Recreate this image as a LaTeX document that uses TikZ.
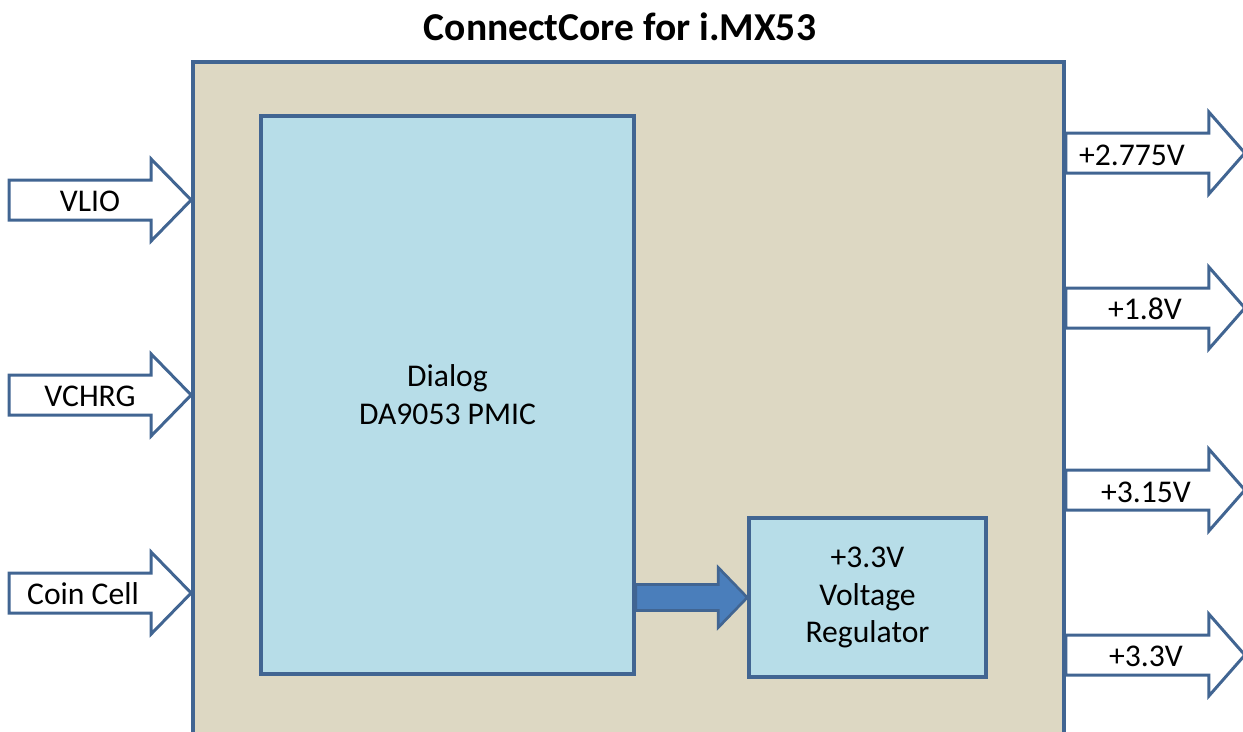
\documentclass[tikz,border=0pt]{standalone}
\usepackage{fontspec}
\setmainfont{Carlito}
\usetikzlibrary{calc}
\definecolor{edgeblue}{RGB}{65,101,146}
\definecolor{boardtan}{RGB}{221,216,195}
\definecolor{chipblue}{RGB}{183,221,232}
\definecolor{flowblue}{RGB}{74,126,187}
\tikzset{
  board/.style={draw=edgeblue,line width=2.2pt,fill=boardtan,inner sep=0pt},
  chip/.style={draw=edgeblue,line width=2pt,fill=chipblue,align=center,font=\fontsize{18}{21.5}\selectfont},
  pinarrow/.style={draw=edgeblue,line width=1.7pt,fill=white},
  pinlabel/.style={font=\fontsize{18}{21}\selectfont,inner sep=0pt},
}
\begin{document}
\begin{tikzpicture}[x=0.02cm,y=-0.02cm]
\clip (0,0) rectangle (1243,731);
\node[font=\bfseries\fontsize{22.5}{27}\selectfont] (title) at (620,27) {ConnectCore for i.MX53};
\node[board,minimum width=17.42cm,minimum height=14.76cm] (board) at (628.5,431) {};
\node[chip,minimum width=7.46cm,minimum height=11.16cm] (pmic) at (447.5,395) {Dialog\\DA9053 PMIC};
\node[chip,minimum width=4.74cm,minimum height=3.18cm] (reg) at (867.5,597.5) {+3.3V\\Voltage\\Regulator};
% PMIC feeds the regulator
\coordinate (pmicout) at (pmic.east |- reg.west);
\draw[draw=edgeblue,line width=1.5pt,fill=flowblue] ($(pmicout)+(0,-13)$) -- ($(reg.west)+(-29,-13)$) -- ++(0,-17) -- (reg.west) -- ++(-29,30) -- ++(0,-17) -- ($(pmicout)+(0,13)$) -- cycle;
% inputs
\coordinate (vliotip) at (board.west |- 0,200);
\coordinate (vchrgtip) at (board.west |- 0,395);
\coordinate (cointip) at (board.west |- 0,593);
\draw[pinarrow] (vliotip) -- ++(-40,-41) -- ++(0,21) -- ++(-142,0) -- ++(0,40) -- ++(142,0) -- ++(0,21) -- cycle;
\draw[pinarrow] (vchrgtip) -- ++(-40,-41) -- ++(0,21) -- ++(-142,0) -- ++(0,40) -- ++(142,0) -- ++(0,21) -- cycle;
\draw[pinarrow] (cointip) -- ++(-40,-41) -- ++(0,21) -- ++(-142,0) -- ++(0,40) -- ++(142,0) -- ++(0,21) -- cycle;
\node[pinlabel] (vlio) at (90,201) {VLIO};
\node[pinlabel] (vchrg) at (90,396) {VCHRG};
\node[pinlabel] (coin) at (83,594) {Coin Cell};
% outputs
\coordinate (out2775) at (board.east |- 0,153);
\coordinate (out18) at (board.east |- 0,308);
\coordinate (out315) at (board.east |- 0,490);
\coordinate (out33) at (board.east |- 0,655);
\draw[pinarrow] ($(out2775)+(0,-20)$) -- ++(143,0) -- ++(0,-21) -- ++(36,41) -- ++(-36,41) -- ++(0,-21) -- ++(-143,0) -- cycle;
\draw[pinarrow] ($(out18)+(0,-20)$) -- ++(143,0) -- ++(0,-21) -- ++(36,41) -- ++(-36,41) -- ++(0,-21) -- ++(-143,0) -- cycle;
\draw[pinarrow] ($(out315)+(0,-20)$) -- ++(143,0) -- ++(0,-21) -- ++(36,41) -- ++(-36,41) -- ++(0,-21) -- ++(-143,0) -- cycle;
\draw[pinarrow] ($(out33)+(0,-20)$) -- ++(143,0) -- ++(0,-21) -- ++(36,41) -- ++(-36,41) -- ++(0,-21) -- ++(-143,0) -- cycle;
\node[pinlabel] (v2775) at (1132,155) {+2.775V};
\node[pinlabel] (v18) at (1145,309) {+1.8V};
\node[pinlabel] (v315) at (1146,492) {+3.15V};
\node[pinlabel] (v33) at (1146,656) {+3.3V};
\end{tikzpicture}
\end{document}
